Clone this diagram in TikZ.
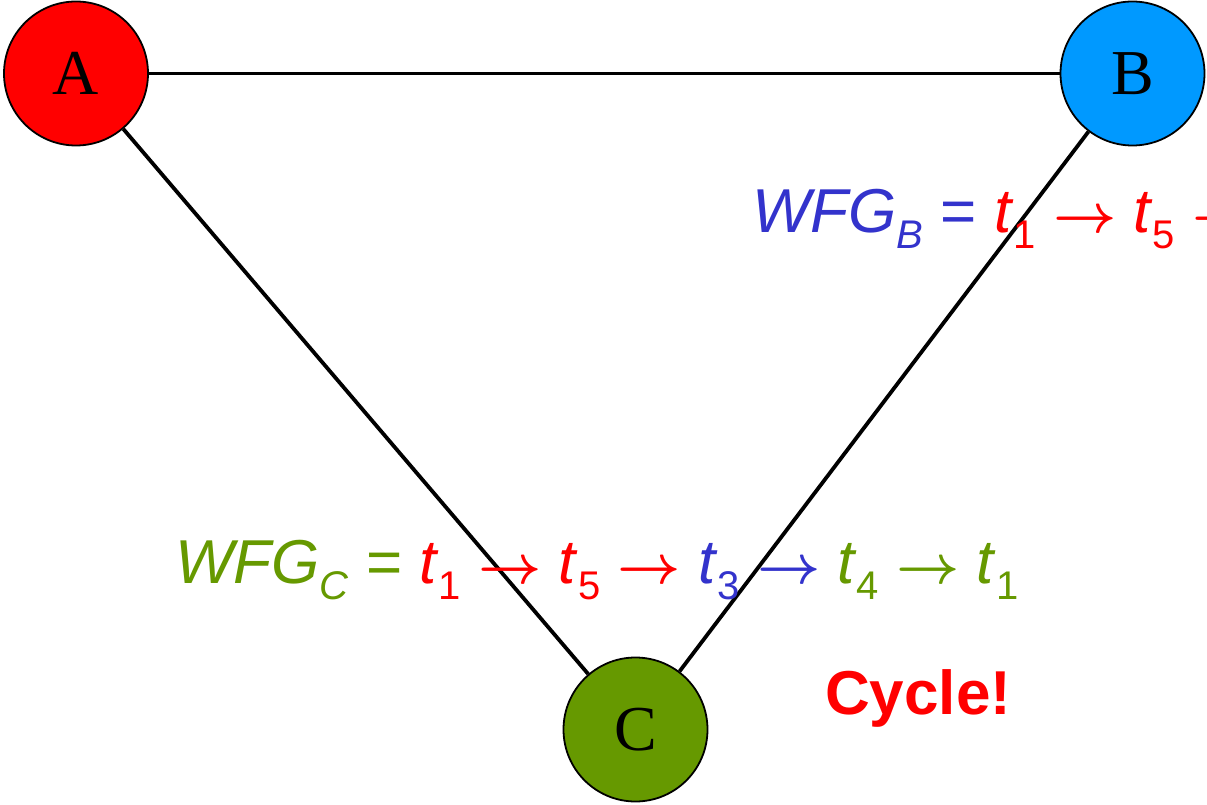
\documentclass[tikz,border=0pt]{standalone}
\usepackage{fontspec}
\setmainfont{Liberation Serif}
\newfontfamily\arial{Liberation Sans}
\definecolor{wfgblue}{RGB}{51,51,204}
\definecolor{wfggreen}{RGB}{102,153,0}
\definecolor{nodeblue}{RGB}{0,153,255}
\definecolor{nodegreen}{RGB}{102,153,0}
\newcommand{\sbs}[1]{\raisebox{-16pt}{\fontsize{40}{40}\selectfont #1}}
\newcommand{\arr}{\scalebox{5.5}{\fontsize{10}{10}\selectfont\boldmath$\rightarrow$}}
\tikzset{
  site/.style={circle, draw=black, line width=1.8pt, minimum size=144pt, inner sep=0pt,
    font=\fontsize{64}{64}\selectfont},
  link/.style={draw=black, line width=3.8pt},
  wfg/.style={anchor=base west, inner sep=0pt, font=\arial\fontsize{62}{62}\selectfont},
}
\begin{document}
\begin{tikzpicture}[x=1pt, y=-1pt]
\useasboundingbox (0,0) rectangle (1207,805);
\clip (0,0) rectangle (1207,805);
\fill[white] (0,0) rectangle (1207,805);
\node[site, fill=red] (A) at (76,73.5) {A};
\node[site, fill=nodeblue] (B) at (1132.5,73.5) {B};
\node[site, fill=nodegreen] (C) at (635.5,729.5) {C};
\draw[link] (A) -- (B);
\draw[link] (A) -- (C);
\draw[link] (B) -- (C);
\node[wfg] (wb) at (752,233) {\color{wfgblue}\textit{WFG}\sbs{\textit{B}} = \color{red}\textit{t}\sbs{1} \arr{} \textit{t}\sbs{5} \arr};
\node[wfg] (wc) at (175,583) {\color{wfggreen}\textit{WFG}\sbs{\textit{C}} = \color{red}\textit{t}\sbs{1} \arr{} \textit{t}\sbs{5} \arr{} \color{wfgblue}\textit{t}\sbs{3} \arr{} \color{wfggreen}\textit{t}\sbs{4} \arr{} \textit{t}\sbs{1}};
\node[wfg, text=red, font=\arial\bfseries\fontsize{62}{62}\selectfont] (cyc) at (825,714) {Cycle!};
\end{tikzpicture}
\end{document}
